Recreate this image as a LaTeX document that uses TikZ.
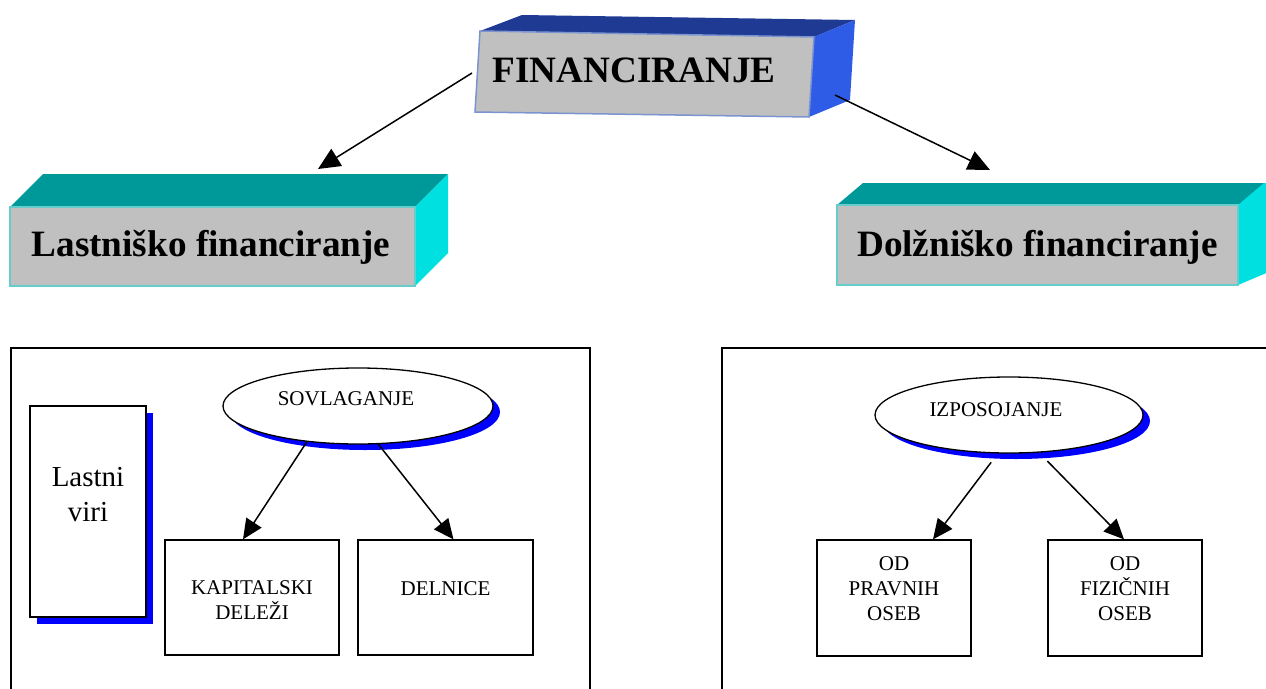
\documentclass[tikz,border=0pt]{standalone}
\usepackage{fontspec}
\setmainfont{Liberation Serif}
\usetikzlibrary{arrows.meta,shapes.geometric,shadows,calc}
\definecolor{frontgray}{HTML}{C0C0C0}
\definecolor{navytop}{HTML}{1F3A93}
\definecolor{navyside}{HTML}{2E5CE6}
\definecolor{navyedge}{HTML}{7B93CF}
\definecolor{tealtop}{HTML}{009999}
\definecolor{tealside}{HTML}{00E0E0}
\definecolor{tealedge}{HTML}{66CCCC}
\definecolor{shadowblue}{HTML}{0000FF}
\tikzset{
  bigtxt/.style={font=\fontsize{37.2}{42}\selectfont\bfseries, inner sep=0pt},
  smalltxt/.style={font=\fontsize{21}{25}\selectfont, align=center, inner sep=0pt},
  viritxt/.style={font=\fontsize{29}{35}\selectfont, align=center, inner sep=0pt},
  tealfront/.style={draw=tealedge, fill=frontgray, line width=1.5pt, inner sep=0pt},
  itembox/.style={draw=black, fill=white, line width=1.3pt, inner sep=0pt},
  ellbox/.style={ellipse, draw=black, fill=white, line width=1.3pt, inner sep=0pt,
    minimum width=270pt, minimum height=76pt,
    general shadow={fill=shadowblue, shadow xshift=7pt, shadow yshift=-6pt}},
  virishadow/.style={general shadow={fill=shadowblue, shadow xshift=7pt, shadow yshift=-7pt}},
  arr/.style={-{Triangle[length=20pt,width=18pt]}, line width=1.5pt, draw=black},
  bigarr/.style={-{Triangle[length=22pt,width=20pt]}, line width=1.5pt, draw=black},
  frame/.style={draw=black, line width=1.3pt}
}
\begin{document}
\begin{tikzpicture}[x=1pt,y=-1pt]
\useasboundingbox (0,0) rectangle (1266,688);
\clip (0,0) rectangle (1266,688);
\fill[white] (0,0) rectangle (1266,688);

% ---- FINANCIRANJE 3D box
\fill[navytop] (480,31) -- (522,15) -- (855,20) -- (814,37) -- cycle;
\fill[navyside] (814,37) -- (855,20) -- (850,100) -- (809,117) -- cycle;
\filldraw[fill=frontgray, draw=navyedge, line width=1.5pt] (480,31) -- (814,37) -- (809,117) -- (475,112) -- cycle;
\node[bigtxt, anchor=base] (fin) at (634,82) {FINANCIRANJE};

% ---- Lastnisko 3D box
\fill[tealtop] (10,207) -- (43,174) -- (448,174) -- (415,207) -- cycle;
\fill[tealside] (415,207) -- (448,174) -- (448,253) -- (415,286) -- cycle;
\node[tealfront, minimum width=405pt, minimum height=79pt] (last) at (212.5,246.5) {};
\node[bigtxt, anchor=base] (lasttxt) at (211,256) {Lastniško financiranje};

% ---- Dolznisko 3D box
\fill[tealtop] (837,205) -- (863,183) -- (1290,183) -- (1238,205) -- cycle;
\fill[tealside] (1238,205) -- (1264,183) -- (1290,183) -- (1290,263) -- (1238,285) -- cycle;
\node[tealfront, minimum width=401pt, minimum height=80pt] (dolz) at (1037.5,245) {};
\node[bigtxt, anchor=base] (dolztxt) at (1037.5,256) {Dolžniško financiranje};

% ---- top arrows
\coordinate (finL) at (472,73);
\coordinate (finR) at (835,95);
\coordinate (lastIn) at (318,169);
\coordinate (dolzIn) at (990,170);
\draw[bigarr] (finL) -- (lastIn);
\draw[bigarr] (finR) -- (dolzIn);

% ---- containers
\draw[frame] (11,700) -- (11,348) -- (590,348) -- (590,700);
\draw[frame] (722,700) -- (722,348) -- (1290,348);

% ---- left content
\node[itembox, virishadow, minimum width=116pt, minimum height=211pt] (viri) at (88,511.5) {};
\node[viritxt] (viritxt) at (88,494.5) {Lastni\\viri};

\node[ellbox] (sov) at (358,406) {};
\node[smalltxt] (sovtxt) at (346,399) {SOVLAGANJE};

\node[itembox, minimum width=174pt, minimum height=115pt] (kap) at (252,597.5) {};
\node[smalltxt] (kaptxt) at (252,600.5) {KAPITALSKI\\DELEŽI};
\node[itembox, minimum width=175pt, minimum height=115pt] (deln) at (445.5,597.5) {};
\node[smalltxt] (delntxt) at (445.5,589) {DELNICE};

\draw[arr] (sov.215) -- ([xshift=-9pt]kap.north);
\draw[arr] (sov.298) -- ([xshift=8pt]deln.north);

% ---- right content
\node[ellbox, minimum width=268pt] (izp) at (1009,415) {};
\node[smalltxt] (izptxt) at (996,410) {IZPOSOJANJE};

\node[itembox, minimum width=154pt, minimum height=116pt] (prav) at (894,598) {};
\node[smalltxt] (pravtxt) at (894,589) {OD\\PRAVNIH\\OSEB};
\node[itembox, minimum width=154pt, minimum height=116pt] (fiz) at (1125,598) {};
\node[smalltxt] (fiztxt) at (1125,589) {OD\\FIZIČNIH\\OSEB};

\draw[arr] ([yshift=-9pt]izp.245) -- ([xshift=39pt]prav.north);
\draw[arr] ([yshift=-9pt]izp.316) -- ([xshift=-1pt]fiz.north);
\end{tikzpicture}
\end{document}
